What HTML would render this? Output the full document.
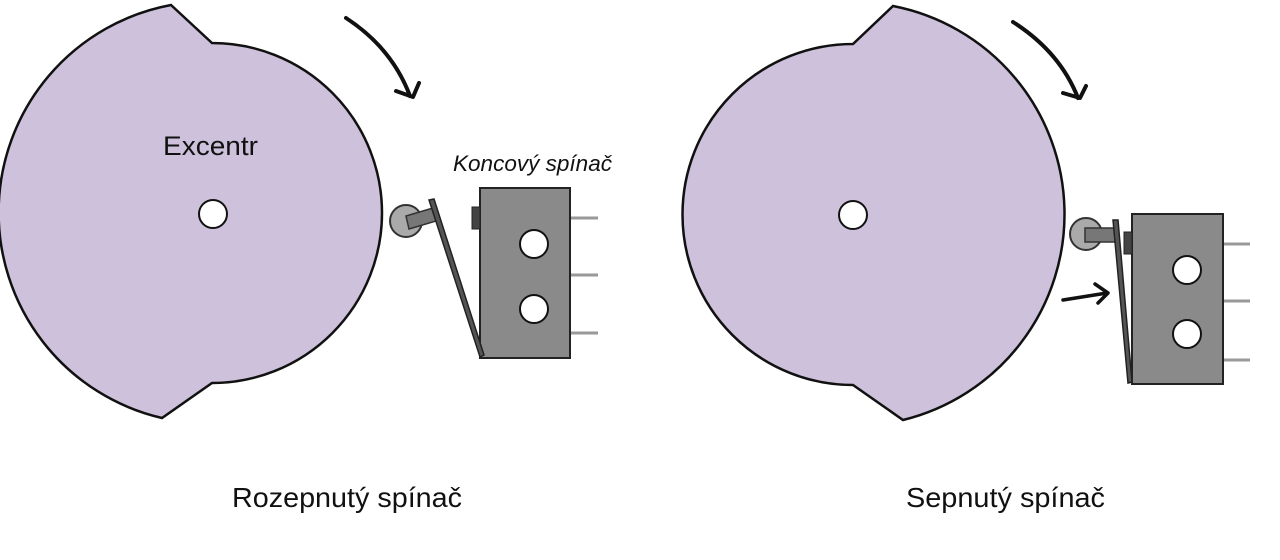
<!DOCTYPE html>
<html><head><meta charset="utf-8"><style>
html,body{margin:0;padding:0;background:#fff;}
svg{display:block;}
</style></head><body>
<svg width="1280" height="560" viewBox="0 0 1280 560" xmlns="http://www.w3.org/2000/svg">
<!-- Left cam -->
<path d="M171,5 L212,43 A170,170 0 0 1 212,383 L162,418 A211,211 0 0 1 171,5 Z" fill="#cec1db" stroke="#111" stroke-width="2.5"/>
<circle cx="213" cy="214" r="14" fill="#fff" stroke="#111" stroke-width="2"/>
<text x="163" y="155" font-family="Liberation Sans, sans-serif" font-size="27" fill="#111" textLength="95" lengthAdjust="spacingAndGlyphs">Excentr</text>
<!-- left rotation arrow -->
<path d="M346,18 Q392,48 410,96" fill="none" stroke="#111" stroke-width="4" stroke-linecap="round"/>
<path d="M396,91 L413,97 L419,83" fill="none" stroke="#111" stroke-width="4" stroke-linecap="round" stroke-linejoin="round"/>
<!-- left switch -->
<text x="453" y="171" font-family="Liberation Sans, sans-serif" font-size="22" font-style="italic" fill="#111" textLength="159" lengthAdjust="spacingAndGlyphs">Koncový spínač</text>
<line x1="570" y1="218" x2="598" y2="218" stroke="#999" stroke-width="3"/>
<line x1="570" y1="275" x2="598" y2="275" stroke="#999" stroke-width="3"/>
<line x1="570" y1="333" x2="598" y2="333" stroke="#999" stroke-width="3"/>
<rect x="480" y="188" width="90" height="170" fill="#8a8a8a" stroke="#222" stroke-width="2"/>
<rect x="472" y="207" width="8" height="22" fill="#444" stroke="#222" stroke-width="1"/>
<circle cx="534" cy="244" r="14" fill="#fff" stroke="#111" stroke-width="2"/>
<circle cx="534" cy="309" r="14" fill="#fff" stroke="#111" stroke-width="2"/>
<circle cx="406" cy="221" r="16" fill="#aaa" stroke="#333" stroke-width="2"/>
<polygon points="406,216 433,208 436,221 409,229" fill="#777" stroke="#333" stroke-width="1.5"/>
<polygon points="429,200 434,199 484,355 480,357" fill="#555" stroke="#222" stroke-width="1.5"/>
<text x="232" y="507" font-family="Liberation Sans, sans-serif" font-size="28" fill="#111" textLength="230" lengthAdjust="spacingAndGlyphs">Rozepnutý spínač</text>

<!-- Right cam -->
<path d="M893,6 L853,44 A170,170 0 0 0 853,385 L903,420 A212,212 0 0 0 893,6 Z" fill="#cec1db" stroke="#111" stroke-width="2.5"/>
<circle cx="853" cy="215" r="14" fill="#fff" stroke="#111" stroke-width="2"/>
<path d="M1013,22 Q1060,52 1078,98" fill="none" stroke="#111" stroke-width="4" stroke-linecap="round"/>
<path d="M1063,93 L1080,98 L1086,86" fill="none" stroke="#111" stroke-width="4" stroke-linecap="round" stroke-linejoin="round"/>
<!-- right switch -->
<line x1="1223" y1="244" x2="1250" y2="244" stroke="#999" stroke-width="3"/>
<line x1="1223" y1="301" x2="1250" y2="301" stroke="#999" stroke-width="3"/>
<line x1="1223" y1="360" x2="1250" y2="360" stroke="#999" stroke-width="3"/>
<rect x="1132" y="214" width="91" height="170" fill="#8a8a8a" stroke="#222" stroke-width="2"/>
<rect x="1124" y="232" width="8" height="22" fill="#444" stroke="#222" stroke-width="1"/>
<circle cx="1187" cy="270" r="14" fill="#fff" stroke="#111" stroke-width="2"/>
<circle cx="1187" cy="334" r="14" fill="#fff" stroke="#111" stroke-width="2"/>
<circle cx="1086" cy="234" r="16" fill="#aaa" stroke="#333" stroke-width="2"/>
<rect x="1085" y="228" width="33" height="14" fill="#777" stroke="#333" stroke-width="1.5"/>
<polygon points="1113,220 1118,220 1132,382 1128,383" fill="#555" stroke="#222" stroke-width="1.5"/>
<path d="M1063,300 L1107,293" fill="none" stroke="#111" stroke-width="3.5" stroke-linecap="round"/>
<path d="M1095,284 L1108,293 L1098,303" fill="none" stroke="#111" stroke-width="3.5" stroke-linecap="round" stroke-linejoin="round"/>
<text x="906" y="507" font-family="Liberation Sans, sans-serif" font-size="28" fill="#111" textLength="199" lengthAdjust="spacingAndGlyphs">Sepnutý spínač</text>
</svg>
</body></html>
